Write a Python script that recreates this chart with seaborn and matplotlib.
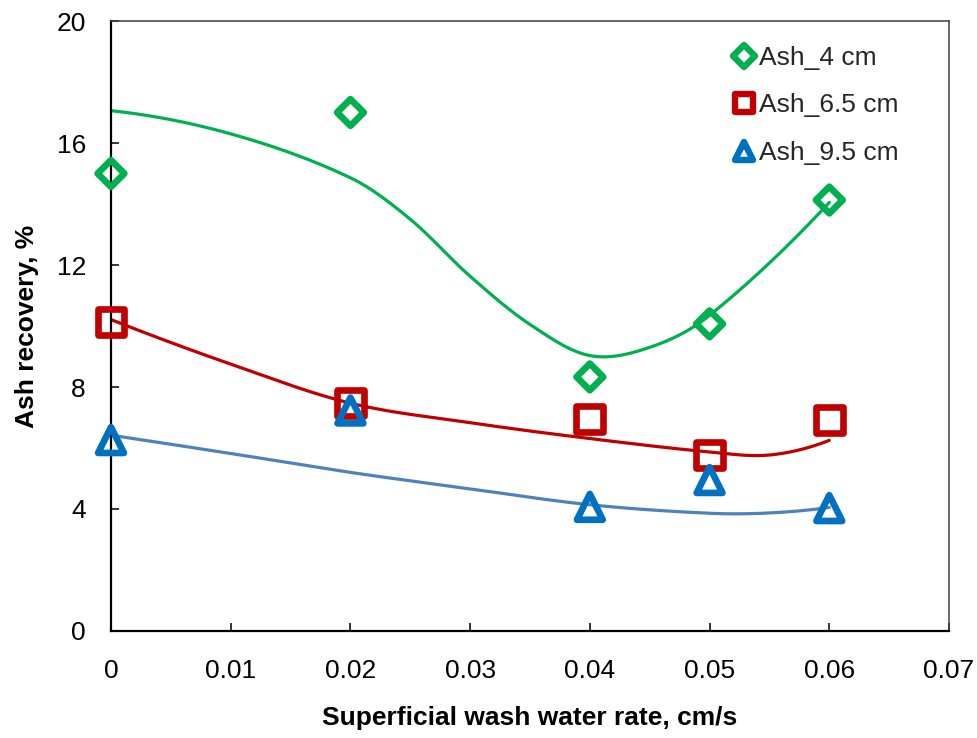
import numpy as np
import pandas as pd
import matplotlib
matplotlib.use("Agg")
import matplotlib.pyplot as plt
from matplotlib.markers import MarkerStyle
from matplotlib.lines import Line2D
import seaborn as sns

# Measured ash recovery (%) against superficial wash water rate (cm/s)
wash_rate = [0.0, 0.02, 0.04, 0.05, 0.06]
ash_4cm = [15.0, 17.0, 8.33, 10.07, 14.13]
ash_65cm = [10.13, 7.48, 6.95, 5.77, 6.92]
ash_95cm = [6.26, 7.23, 4.07, 4.95, 4.03]

# Trend curves, sampled along the wash water rate axis
fit_rate_4cm = [0.0, 0.01, 0.02, 0.025, 0.03, 0.035, 0.04, 0.045, 0.05, 0.06]
fit_4cm = [17.06, 16.3, 14.86, 13.5, 11.63, 10.05, 9.03, 9.3, 10.35, 14.05]
fit_rate_65cm = [0.0, 0.01, 0.02, 0.03, 0.04, 0.05, 0.055, 0.06]
fit_65cm = [10.21, 8.75, 7.47, 6.83, 6.31, 5.87, 5.77, 6.25]
fit_rate_95cm = [0.0, 0.01, 0.02, 0.03, 0.04, 0.05, 0.055, 0.06]
fit_95cm = [6.42, 5.82, 5.2, 4.66, 4.14, 3.86, 3.87, 4.05]

series_names = ["Ash_4 cm", "Ash_6.5 cm", "Ash_9.5 cm"]
x_ticks = [0.0, 0.01, 0.02, 0.03, 0.04, 0.05, 0.06, 0.07]
x_tick_labels = ["0", "0.01", "0.02", "0.03", "0.04", "0.05", "0.06", "0.07"]
y_ticks = [0, 4, 8, 12, 16, 20]
y_tick_labels = ["0", "4", "8", "12", "16", "20"]

marker_colors = ["#00B050", "#C00000", "#0070C0"]
line_colors = ["#00B050", "#C00000", "#4F81BD"]
marker_shapes = ["D", "s", "^"]
marker_areas = [185, 370, 345]
legend_sizes = [11, 13.5, 13]

sns.set_theme(style="white")
plt.rcParams["font.family"] = ["Liberation Sans", "DejaVu Sans"]


def smooth_curve(xs, ys, n=40):
    """Cubic Hermite curve through the points, central-difference slopes."""
    x = np.asarray(xs, dtype=float)
    y = np.asarray(ys, dtype=float)
    m = np.empty_like(y)
    m[1:-1] = (y[2:] - y[:-2]) / (x[2:] - x[:-2])
    # parabolic end conditions
    m[0] = 2 * (y[1] - y[0]) / (x[1] - x[0]) - m[1]
    m[-1] = 2 * (y[-1] - y[-2]) / (x[-1] - x[-2]) - m[-2]
    px, py = [], []
    t = np.linspace(0.0, 1.0, n)
    for i in range(len(x) - 1):
        h = x[i + 1] - x[i]
        h00 = 2 * t ** 3 - 3 * t ** 2 + 1
        h10 = t ** 3 - 2 * t ** 2 + t
        h01 = -2 * t ** 3 + 3 * t ** 2
        h11 = t ** 3 - t ** 2
        seg_y = h00 * y[i] + h10 * h * m[i] + h01 * y[i + 1] + h11 * h * m[i + 1]
        seg_x = x[i] + t * h
        start = 0 if i == 0 else 1
        px.extend(seg_x[start:])
        py.extend(seg_y[start:])
    return np.array(px), np.array(py)


fig = plt.figure(figsize=(9.78, 7.38), dpi=100)
ax = fig.add_axes([111 / 978, 1 - 631 / 738, (949 - 111) / 978, (631 - 21) / 738])

measured = [ash_4cm, ash_65cm, ash_95cm]
fitted = [(fit_rate_4cm, fit_4cm), (fit_rate_65cm, fit_65cm), (fit_rate_95cm, fit_95cm)]

for (fx, fy), col in zip(fitted, line_colors):
    cx, cy = smooth_curve(fx, fy)
    df = pd.DataFrame({"rate": cx, "ash": cy})
    sns.lineplot(data=df, x="rate", y="ash", sort=False, estimator=None,
                 color=col, linewidth=2.3, ax=ax, zorder=2)

for vals, col, shape, area in zip(measured, marker_colors, marker_shapes, marker_areas):
    df = pd.DataFrame({"rate": wash_rate, "ash": vals})
    sns.scatterplot(data=df, x="rate", y="ash", marker=shape, s=area,
                    color=col, facecolors="none", edgecolors=col,
                    linewidth=4.8, ax=ax, zorder=4, clip_on=False)

ax.set_xlim(0, 0.07)
ax.set_ylim(0, 20)
ax.set_xticks(x_ticks)
ax.set_xticklabels(x_tick_labels)
ax.set_yticks(y_ticks)
ax.set_yticklabels(y_tick_labels)
ax.tick_params(axis="x", direction="in", length=5.5, width=1.1, color="black",
               labelsize=19, labelcolor="black", pad=20, bottom=True)
ax.tick_params(axis="y", direction="in", length=5.5, width=1.1, color="black",
               labelsize=19, labelcolor="black", pad=18, left=True)

for side in ["left", "bottom"]:
    ax.spines[side].set_color("black")
    ax.spines[side].set_linewidth(1.6)
for side in ["top", "right"]:
    ax.spines[side].set_color("#404040")
    ax.spines[side].set_linewidth(1.1)
    ax.spines[side].set_visible(True)
ax.grid(False)

ax.set_xlabel("Superficial wash water rate, cm/s", fontsize=19, fontweight="bold", color="black")
ax.set_ylabel("Ash recovery, %", fontsize=19, fontweight="bold", color="black")
ax.xaxis.set_label_coords(0.5, -(706 - 631) / 610)
ax.yaxis.set_label_coords(-(111 - 39) / 838, 0.5)

handles = [
    Line2D([], [], linestyle="none", marker=MarkerStyle(shape, joinstyle="round"),
           markersize=ms, markerfacecolor="white", markeredgecolor=col, markeredgewidth=4.6)
    for shape, ms, col in zip(marker_shapes, legend_sizes, marker_colors)
]
ax.legend(handles, series_names, loc="upper left",
          bbox_to_anchor=(731 / 978, 1 - 46 / 738), bbox_transform=fig.transFigure,
          frameon=False, fontsize=19, handlelength=1.0, handletextpad=0.05,
          labelspacing=0.89, borderpad=0, borderaxespad=0)

fig.savefig("out.png", dpi=100)
